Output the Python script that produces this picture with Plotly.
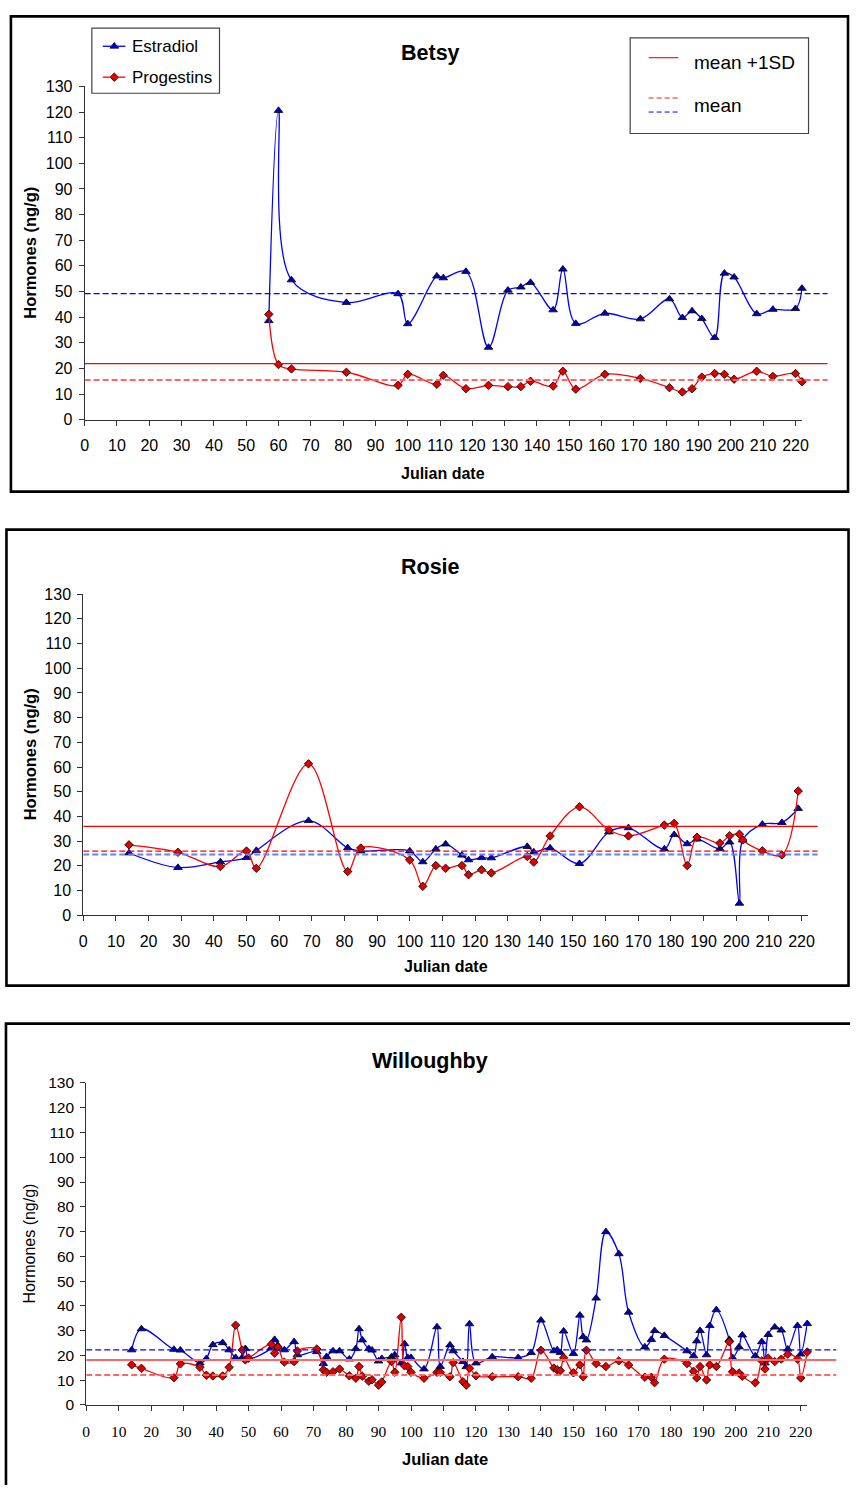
import plotly.graph_objects as go

# ---------------- data ----------------
betsy_days = [57, 60, 64, 81, 97, 100, 109, 111, 118, 125, 131, 135, 138, 145, 148, 152,
              161, 172, 181, 185, 188, 191, 195, 198, 201, 208, 213, 220, 222]
betsy_estradiol = [38.6, 120.6, 54.5, 45.7, 49.1, 37.4, 56.0, 55.3, 57.8, 28.2, 50.5, 51.7, 53.5,
                   42.8, 58.7, 37.5, 41.5, 39.3, 47.1, 39.8, 42.4, 39.4, 32.0, 57.1, 55.6, 41.3,
                   43.0, 43.3, 51.2]
betsy_progestins = [41.1, 21.5, 19.8, 18.5, 13.4, 17.7, 13.8, 17.3, 12.1, 13.4, 12.9, 12.9, 15.0,
                    13.1, 18.9, 11.9, 17.7, 16.1, 12.5, 10.8, 12.1, 16.6, 18.0, 17.7, 15.8, 18.9,
                    16.9, 18.0, 14.8]
betsy_e2_mean = 49.2
betsy_p_mean = 15.5
betsy_mean_1sd = 21.9

rosie_days = [14, 29, 42, 50, 53, 69, 81, 85, 100, 104, 108, 111, 116, 118, 122, 125, 136, 138,
              143, 152, 161, 167, 178, 181, 185, 188, 195, 198, 201, 202, 208, 214, 219]
rosie_estradiol = [25.2, 19.3, 21.6, 23.3, 26.2, 38.3, 27.3, 26.0, 26.0, 21.6, 26.8, 28.8, 24.3,
                   22.4, 23.3, 23.2, 27.8, 25.6, 27.2, 20.9, 33.7, 35.4, 26.8, 32.6, 28.9, 30.8,
                   26.9, 29.6, 4.8, 30.4, 36.8, 37.5, 43.2]
rosie_progestins = [28.5, 25.5, 19.7, 26.0, 19.0, 61.3, 17.7, 27.2, 22.4, 11.7, 20.1, 19.0, 20.1,
                    16.4, 18.4, 17.1, 23.8, 21.5, 32.1, 43.9, 34.5, 32.1, 36.5, 37.2, 20.1, 31.6,
                    29.2, 32.2, 32.8, 30.5, 26.1, 24.4, 50.3]
rosie_e2_mean = 24.6
rosie_p_mean = 26.0
rosie_mean_1sd = 36.0

will_days = [14, 17, 27, 29, 35, 37, 39, 42, 44, 46, 48, 49, 50, 57, 58, 59, 61, 64, 65, 71, 73,
             74, 76, 78, 81, 83, 84, 85, 87, 88, 90, 91, 94, 95, 97, 98, 99, 100, 104, 108, 109,
             112, 113, 116, 117, 118, 120, 125, 133, 137, 140, 144, 145, 146, 147, 150, 152, 153,
             154, 157, 160, 164, 167, 172, 174, 175, 178, 185, 187, 188, 189, 191, 192, 194, 198,
             199, 201, 202, 206, 208, 209, 210, 212, 214, 216, 219, 220, 222]
will_estradiol = [22.2, 30.7, 22.4, 22.1, 16.9, 18.7, 24.3, 25.1, 22.2, 19.1, 19.1, 22.7, 18.9,
                  23.1, 26.4, 24.0, 22.2, 25.5, 20.2, 21.5, 16.7, 19.5, 21.8, 21.8, 18.5, 22.7,
                  30.7, 26.2, 22.7, 22.1, 17.7, 18.7, 19.4, 20.2, 16.9, 24.7, 19.1, 19.1, 14.5,
                  31.5, 15.5, 24.2, 21.8, 17.5, 15.4, 32.7, 16.9, 19.4, 19.1, 21.1, 34.2, 21.8,
                  22.2, 21.1, 29.8, 20.7, 36.2, 27.5, 26.2, 43.1, 69.9, 61.0, 37.4, 23.4, 26.4,
                  30.0, 28.0, 21.8, 19.8, 25.8, 30.0, 20.2, 32.0, 38.4, 26.4, 19.1, 23.4, 28.2,
                  19.8, 25.5, 16.9, 28.4, 31.4, 30.2, 22.5, 32.0, 20.5, 32.8]
will_progestins = [16.2, 14.8, 11.0, 16.6, 15.2, 12.0, 11.7, 11.7, 15.2, 32.2, 22.2, 18.2, 18.9,
                   24.5, 20.9, 23.4, 17.3, 17.5, 21.8, 22.6, 14.2, 13.2, 13.4, 14.5, 11.8, 10.8,
                   15.5, 11.6, 9.6, 10.2, 8.0, 9.3, 17.5, 13.2, 35.4, 15.8, 15.5, 13.2, 10.8, 13.2,
                   13.2, 11.4, 17.1, 9.4, 8.0, 14.8, 11.8, 11.4, 11.4, 10.8, 22.1, 14.9, 14.2, 13.8,
                   19.1, 13.0, 16.2, 11.4, 22.1, 16.7, 15.5, 17.8, 16.1, 11.2, 11.2, 9.0, 18.5,
                   16.7, 13.6, 10.9, 15.5, 10.1, 16.2, 15.5, 25.5, 13.4, 12.9, 11.6, 9.0, 17.8,
                   14.5, 18.9, 17.5, 18.5, 20.5, 18.5, 10.9, 21.4]
will_e2_mean = 22.2
will_p_mean = 12.1
will_mean_1sd = 18.2

panel_titles = ["Betsy", "Rosie", "Willoughby"]
x_title = "Julian date"
y_title = "Hormones (ng/g)"
legend_series = ["Estradiol", "Progestins"]
legend_refs = ["mean +1SD", "mean"]

# ---------------- layout helpers ----------------
W, H = 857, 1494
SANS = "Liberation Sans, Arial, sans-serif"
SERIF = "Liberation Serif, Times New Roman, serif"


def px(x):
    return x / W


def py(y):
    return 1 - y / H


BLUE = "#0000FF"
RED = "#FF0000"
LRED = "#FF6666"
LBLUE = "#6F7BFF"

fig = go.Figure()

# panel geometry (page pixels): x0 (day 0), px-per-day, y0 (value 0), y130, mean-line extent
panels = [
    dict(x0=81.7, k=3.273, y0=415.7, y130=78.4, ext=230, tf=SANS, bold=True, so=6),
    dict(x0=80.3, k=3.307, y0=917.3, y130=592.3, ext=225, tf=SANS, bold=True, so=7),
    dict(x0=83.3, k=3.29, y0=1413.0, y130=1087.0, ext=231, tf=SERIF, bold=False, so=7),
]

datasets = [
    (betsy_days, betsy_estradiol, betsy_progestins, betsy_e2_mean, betsy_p_mean, betsy_mean_1sd),
    (rosie_days, rosie_estradiol, rosie_progestins, rosie_e2_mean, rosie_p_mean, rosie_mean_1sd),
    (will_days, will_estradiol, will_progestins, will_e2_mean, will_p_mean, will_mean_1sd),
]

# mean-line styles per panel: (e2 mean, p mean, mean+1SD)
mean_styles = [
    (dict(color=BLUE, width=1.2, dash="6px,3px"), dict(color=LRED, width=2, dash="6px,3px"),
     dict(color=RED, width=1.3)),
    (dict(color=LBLUE, width=2, dash="6px,3px"), dict(color=RED, width=1.3, dash="6px,3px"),
     dict(color=RED, width=1.2)),
    (dict(color=BLUE, width=1.2, dash="6px,3px"), dict(color=LRED, width=2, dash="6px,3px"),
     dict(color=LRED, width=2)),
]

layout = dict(
    width=W, height=H,
    margin=dict(l=0, r=0, t=0, b=0),
    paper_bgcolor="white",
    plot_bgcolor="rgba(0,0,0,0)",
    showlegend=False,
    font=dict(family=SANS, color="black"),
)

shapes = []
annotations = []

for i, (p, d, ms) in enumerate(zip(panels, datasets, mean_styles)):
    n = i + 1
    sfx = "" if n == 1 else str(n)
    days, e2, prog, e2m, pm, m1 = d
    xa_dom = [px(p["x0"]), px(p["x0"] + 222 * p["k"])]
    ya_dom = [py(p["y0"]), py(p["y130"])]
    hx = 3 + n  # helper axis number (4,5,6)

    axis_common = dict(showline=True, linecolor="#333", linewidth=1, ticks="outside",
                       ticklen=5, tickwidth=1, tickcolor="#333", showgrid=False,
                       zeroline=False, fixedrange=True)
    layout["xaxis" + sfx] = dict(domain=xa_dom, range=[0, 222], tickmode="linear", tick0=0,
                                 dtick=10, anchor="y" + sfx,
                                 tickfont=dict(family=p["tf"], size=16 if n < 3 else 15.5),
                                 ticklabelstandoff=p["so"], **axis_common)
    layout["yaxis" + sfx] = dict(domain=ya_dom, range=[0, 130], tickmode="linear", tick0=0,
                                 dtick=10, anchor="x" + sfx,
                                 tickfont=dict(family=SANS, size=16 if n < 3 else 15.5),
                                 ticklabelstandoff=3, **axis_common)
    layout["xaxis" + str(hx)] = dict(domain=[px(p["x0"]), min(1, px(p["x0"] + p["ext"] * p["k"]))],
                                     range=[0, p["ext"]], anchor="y" + sfx, visible=False,
                                     fixedrange=True)

    # reference lines (means)
    for val, st in ((e2m, ms[0]), (pm, ms[1]), (m1, ms[2])):
        fig.add_trace(go.Scatter(x=[0, p["ext"]], y=[val, val], mode="lines", line=st,
                                 xaxis="x" + str(hx), yaxis="y" + sfx, hoverinfo="skip"))

    fig.add_trace(go.Scatter(
        x=days, y=e2, mode="lines+markers", name=legend_series[0],
        line=dict(color=BLUE, width=1.3, shape="spline", smoothing=1),
        marker=dict(symbol="triangle-up", size=7.5, color="#0000B4",
                    line=dict(color="black", width=0.8)),
        xaxis="x" + sfx, yaxis="y" + sfx, cliponaxis=False))
    fig.add_trace(go.Scatter(
        x=days, y=prog, mode="lines+markers", name=legend_series[1],
        line=dict(color=RED, width=1.3, shape="spline", smoothing=1),
        marker=dict(symbol="diamond", size=6.5, color="#E00000",
                    line=dict(color="black", width=0.8)),
        xaxis="x" + sfx, yaxis="y" + sfx, cliponaxis=False))

# panel borders (kept inside the figure so nothing overflows the page)
borders = [(7, 7.5, 855, 488.5), (2.5, 527, 855.5, 988.5)]
for (x0, y0, x1, y1) in borders:
    shapes.append(dict(type="rect", xref="paper", yref="paper", x0=px(x0), x1=px(x1),
                       y0=py(y1), y1=py(y0), line=dict(color="black", width=2.6)))
# third panel: only the top and left edges are inside the page
shapes.append(dict(type="path", xref="paper", yref="paper",
                   path="M %.5f %.5f L %.5f %.5f L %.5f %.5f" % (px(2), 0, px(2), py(1027),
                                                                 1, py(1027)),
                   line=dict(color="black", width=2.6)))

# titles and axis titles
title_pos = [(432, 45), (432, 565), (432, 1065)]
xt_pos = [(445, 470), (447.5, 969), (447, 1468)]
for i, p in enumerate(panels):
    annotations.append(dict(text="<b>%s</b>" % panel_titles[i], x=px(title_pos[i][0]),
                            y=py(title_pos[i][1]), xref="paper", yref="paper",
                            showarrow=False, xanchor="center", yanchor="middle",
                            font=dict(size=21.5, family=SANS)))
    xt_font = SANS if i < 2 else "Liberation Sans Narrow, Liberation Sans, Arial, sans-serif"
    annotations.append(dict(text="<b>%s</b>" % x_title, x=px(xt_pos[i][0]),
                            y=py(xt_pos[i][1]), xref="paper", yref="paper",
                            showarrow=False, xanchor="center", yanchor="middle",
                            font=dict(size=16 if i < 2 else 16.5, family=xt_font)))
    ytxt = "<b>%s</b>" % y_title if p["bold"] else y_title
    annotations.append(dict(text=ytxt, x=px(26), y=py((p["y0"] + p["y130"]) / 2),
                            xref="paper", yref="paper", showarrow=False, textangle=-90,
                            xanchor="center", yanchor="middle",
                            font=dict(size=16.5 if p["bold"] else 16, family=SANS)))

# legend 1 (series)
shapes.append(dict(type="rect", xref="paper", yref="paper", x0=px(89), x1=px(218.3),
                   y0=py(85.3), y1=py(19.3), line=dict(color="#444", width=1.2),
                   fillcolor="white", layer="below"))
shapes.append(dict(type="line", xref="paper", yref="paper", x0=px(100), x1=px(123),
                   y0=py(37.7), y1=py(37.7), line=dict(color=BLUE, width=1.3)))
shapes.append(dict(type="line", xref="paper", yref="paper", x0=px(100), x1=px(123),
                   y0=py(69), y1=py(69), line=dict(color=RED, width=1.3)))
annotations.append(dict(text=legend_series[0], x=px(127.5), y=py(37.5), xref="paper",
                        yref="paper", showarrow=False, xanchor="left", yanchor="middle",
                        font=dict(size=17, family=SANS)))
annotations.append(dict(text=legend_series[1], x=px(127.5), y=py(69.5), xref="paper",
                        yref="paper", showarrow=False, xanchor="left", yanchor="middle",
                        font=dict(size=17, family=SANS)))
# legend key markers on a full-figure overlay axis (page pixel units)
layout["xaxis7"] = dict(domain=[0, 1], range=[0, W], visible=False, fixedrange=True,
                        anchor="y7")
layout["yaxis7"] = dict(domain=[0, 1], range=[H, 0], visible=False, fixedrange=True,
                        anchor="x7")
fig.add_trace(go.Scatter(x=[111.7], y=[37.7], mode="markers", xaxis="x7", yaxis="y7",
                         marker=dict(symbol="triangle-up", size=7.5, color="#0000B4",
                                     line=dict(color="black", width=0.8)), hoverinfo="skip"))
fig.add_trace(go.Scatter(x=[111.7], y=[69], mode="markers", xaxis="x7", yaxis="y7",
                         marker=dict(symbol="diamond", size=6.5, color="#E00000",
                                     line=dict(color="black", width=0.8)), hoverinfo="skip"))

# legend 2 (reference lines)
shapes.append(dict(type="rect", xref="paper", yref="paper", x0=px(634.3), x1=px(815),
                   y0=py(126), y1=py(29.3), line=dict(color="#444", width=1.2)))
shapes.append(dict(type="line", xref="paper", yref="paper", x0=px(653), x1=px(683),
                   y0=py(49.3), y1=py(49.3), line=dict(color=RED, width=1.1)))
shapes.append(dict(type="line", xref="paper", yref="paper", x0=px(653), x1=px(685),
                   y0=py(90), y1=py(90), line=dict(color=LRED, width=1.5, dash="5px,3px")))
shapes.append(dict(type="line", xref="paper", yref="paper", x0=px(653), x1=px(685),
                   y0=py(104.3), y1=py(104.3), line=dict(color=BLUE, width=1, dash="5px,3px")))
annotations.append(dict(text=legend_refs[0], x=px(697), y=py(54), xref="paper",
                        yref="paper", showarrow=False, xanchor="left", yanchor="middle",
                        font=dict(size=19, family=SANS)))
annotations.append(dict(text=legend_refs[1], x=px(697), y=py(98), xref="paper",
                        yref="paper", showarrow=False, xanchor="left", yanchor="middle",
                        font=dict(size=19, family=SANS)))

layout["shapes"] = shapes
layout["annotations"] = annotations
fig.update_layout(**layout)

fig.write_html("out.html")
